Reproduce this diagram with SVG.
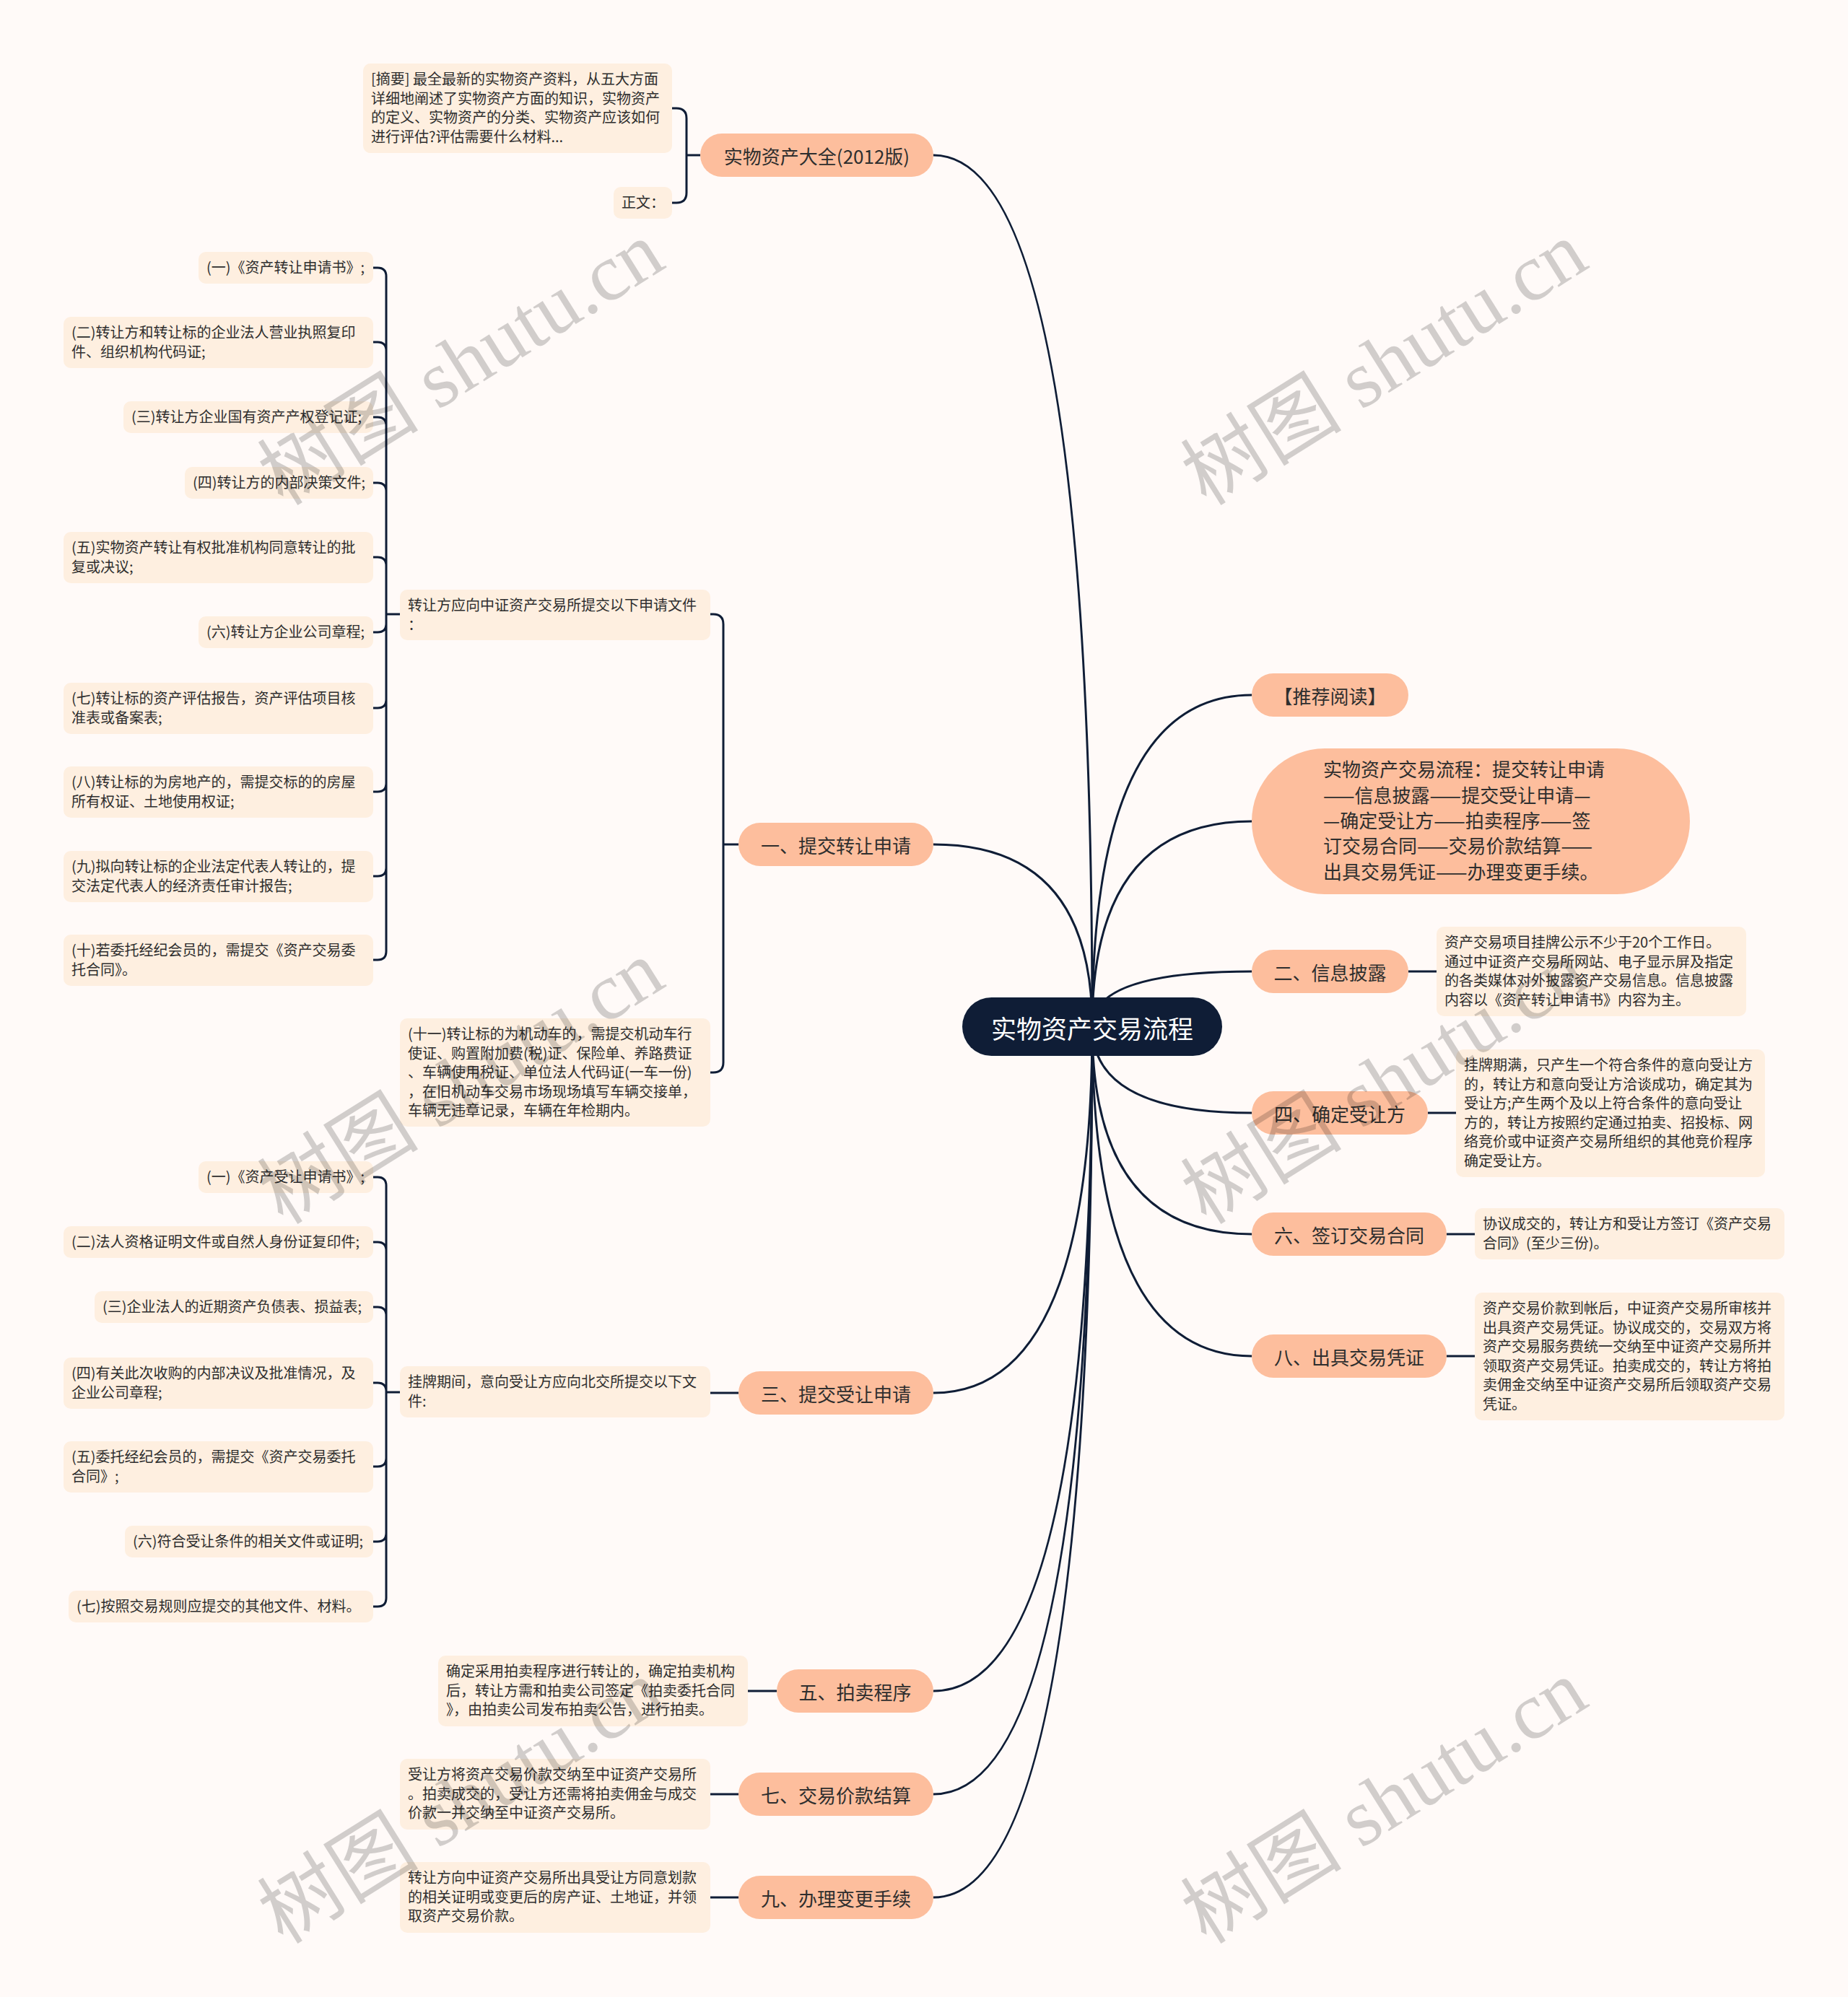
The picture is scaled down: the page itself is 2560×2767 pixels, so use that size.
<svg xmlns="http://www.w3.org/2000/svg" width="2560" height="2767" viewBox="0 0 2560 2767">
<style>
text{font-family:"Noto Sans CJK SC","Noto Sans",sans-serif;fill:#2e2e2e}
.s{font-size:20px}
.m{font-size:26px;text-anchor:middle;dominant-baseline:central}
.mr{fill:#fdbe9d}
.sr{fill:#feefe0}
.cn{fill:none;stroke:#0f1d36;stroke-width:3}
.wm{font-family:"Liberation Serif","Noto Sans CJK SC",serif;font-size:112px;fill:#000;fill-opacity:0.18;text-anchor:middle}
</style>
<rect width="2560" height="2767" fill="#fffaf8"/>
<g id="connectors" class="cn">
<path d="M1513,1422 Q1513,215 1293,215"/>
<path d="M1513,1422 Q1513,1170 1293,1170"/>
<path d="M1513,1422 Q1513,1930 1293,1930"/>
<path d="M1513,1422 Q1513,2343 1293,2343"/>
<path d="M1513,1422 Q1513,2486 1293,2486"/>
<path d="M1513,1422 Q1513,2629 1293,2629"/>
<path d="M1513,1422 Q1513,963 1734,963"/>
<path d="M1513,1422 Q1513,1138 1734,1138"/>
<path d="M1513,1422 Q1513,1346 1734,1346"/>
<path d="M1513,1422 Q1513,1542 1734,1542"/>
<path d="M1513,1422 Q1513,1710 1734,1710"/>
<path d="M1513,1422 Q1513,1879 1734,1879"/>
<path d="M970,215 H951 M931,150 H937 Q951,150 951,164 V215 M931,281 H937 Q951,281 951,267 V215"/>
<path d="M1023,1170 H1002 M984,851 H988 Q1002,851 1002,865 V1170 M984,1486 H988 Q1002,1486 1002,1472 V1170"/>
<path d="M554,851 H535 M517,371 H523 Q535,371 535,383 V851 M517,474 H523 Q535,474 535,486 V851 M517,578 H523 Q535,578 535,590 V851 M517,669 H523 Q535,669 535,681 V851 M517,772 H523 Q535,772 535,784 V851 M517,876 H523 Q535,876 535,864 V851 M517,981 H523 Q535,981 535,969 V851 M517,1097 H523 Q535,1097 535,1085 V851 M517,1214 H523 Q535,1214 535,1202 V851 M517,1330 H523 Q535,1330 535,1318 V851"/>
<path d="M1023,1930 H984"/>
<path d="M554,1929 H535 M517,1631 H523 Q535,1631 535,1643 V1929 M517,1721 H523 Q535,1721 535,1733 V1929 M517,1811 H523 Q535,1811 535,1823 V1929 M517,1916 H523 Q535,1916 535,1928 V1929 M517,2032 H523 Q535,2032 535,2020 V1929 M517,2136 H523 Q535,2136 535,2124 V1929 M517,2226 H523 Q535,2226 535,2214 V1929"/>
<path d="M1076,2343 H1036"/>
<path d="M1023,2486 H984"/>
<path d="M1023,2629 H984"/>
<path d="M1951,1346 H1990"/>
<path d="M1978,1542 H2017"/>
<path d="M2004,1710 H2043"/>
<path d="M2004,1879 H2043"/>
</g>
<g id="center"><rect x="1333" y="1382" width="360" height="81" rx="40.5" fill="#0f1d36"/><text x="1513" y="1423" style="font-size:35px;fill:#fff;text-anchor:middle;dominant-baseline:central">实物资产交易流程</text></g>
<g id="n-daquan"><rect class="mr" x="970" y="185" width="323" height="60" rx="30"/><text class="m" x="1131.5" y="215">实物资产大全(2012版)</text></g>
<g id="n-summary"><rect class="sr" x="503" y="88" width="428" height="124" rx="10"/><text class="s" x="514" y="117">[摘要] 最全最新的实物资产资料，从五大方面<tspan x="514" y="144">详细地阐述了实物资产方面的知识，实物资产</tspan><tspan x="514" y="170">的定义、实物资产的分类、实物资产应该如何</tspan><tspan x="514" y="197">进行评估?评估需要什么材料...</tspan></text></g>
<g id="n-zhengwen"><rect class="sr" x="850" y="259" width="81" height="44" rx="10"/><text class="s" x="861" y="288">正文：</text></g>
<g id="n-1"><rect class="mr" x="1023" y="1140" width="270" height="60" rx="30"/><text class="m" x="1158" y="1170">一、提交转让申请</text></g>
<g id="n-1a"><rect class="sr" x="554" y="817" width="430" height="70" rx="10"/><text class="s" x="565" y="846">转让方应向中证资产交易所提交以下申请文件<tspan x="565" y="873">：</tspan></text></g>
<g id="n-1b"><rect class="sr" x="554" y="1411" width="430" height="150" rx="10"/><text class="s" x="565" y="1440">(十一)转让标的为机动车的，需提交机动车行<tspan x="565" y="1467">使证、购置附加费(税)证、保险单、养路费证</tspan><tspan x="565" y="1493">、车辆使用税证、单位法人代码证(一车一份)</tspan><tspan x="565" y="1520">，在旧机动车交易市场现场填写车辆交接单，</tspan><tspan x="565" y="1546">车辆无违章记录，车辆在年检期内。</tspan></text></g>
<g id="i1-1"><rect class="sr" x="275" y="349" width="242" height="44" rx="10"/><text class="s" x="286" y="378">(一)《资产转让申请书》;</text></g>
<g id="i1-2"><rect class="sr" x="88" y="439" width="429" height="71" rx="10"/><text class="s" x="99" y="468">(二)转让方和转让标的企业法人营业执照复印<tspan x="99" y="495">件、组织机构代码证;</tspan></text></g>
<g id="i1-3"><rect class="sr" x="171" y="556" width="346" height="44" rx="10"/><text class="s" x="182" y="585">(三)转让方企业国有资产产权登记证;</text></g>
<g id="i1-4"><rect class="sr" x="256" y="647" width="261" height="44" rx="10"/><text class="s" x="267" y="676">(四)转让方的内部决策文件;</text></g>
<g id="i1-5"><rect class="sr" x="88" y="737" width="429" height="71" rx="10"/><text class="s" x="99" y="766">(五)实物资产转让有权批准机构同意转让的批<tspan x="99" y="793">复或决议;</tspan></text></g>
<g id="i1-6"><rect class="sr" x="275" y="854" width="242" height="44" rx="10"/><text class="s" x="286" y="883">(六)转让方企业公司章程;</text></g>
<g id="i1-7"><rect class="sr" x="88" y="946" width="429" height="71" rx="10"/><text class="s" x="99" y="975">(七)转让标的资产评估报告，资产评估项目核<tspan x="99" y="1002">准表或备案表;</tspan></text></g>
<g id="i1-8"><rect class="sr" x="88" y="1062" width="429" height="71" rx="10"/><text class="s" x="99" y="1091">(八)转让标的为房地产的，需提交标的的房屋<tspan x="99" y="1118">所有权证、土地使用权证;</tspan></text></g>
<g id="i1-9"><rect class="sr" x="88" y="1179" width="429" height="71" rx="10"/><text class="s" x="99" y="1208">(九)拟向转让标的企业法定代表人转让的，提<tspan x="99" y="1235">交法定代表人的经济责任审计报告;</tspan></text></g>
<g id="i1-10"><rect class="sr" x="88" y="1295" width="429" height="71" rx="10"/><text class="s" x="99" y="1324">(十)若委托经纪会员的，需提交《资产交易委<tspan x="99" y="1351">托合同》。</tspan></text></g>
<g id="n-3"><rect class="mr" x="1023" y="1900" width="270" height="60" rx="30"/><text class="m" x="1158" y="1930">三、提交受让申请</text></g>
<g id="n-3a"><rect class="sr" x="554" y="1893" width="430" height="71" rx="10"/><text class="s" x="565" y="1922">挂牌期间，意向受让方应向北交所提交以下文<tspan x="565" y="1949">件:</tspan></text></g>
<g id="i3-1"><rect class="sr" x="275" y="1609" width="242" height="44" rx="10"/><text class="s" x="286" y="1638">(一)《资产受让申请书》;</text></g>
<g id="i3-2"><rect class="sr" x="88" y="1699" width="429" height="44" rx="10"/><text class="s" x="99" y="1728">(二)法人资格证明文件或自然人身份证复印件;</text></g>
<g id="i3-3"><rect class="sr" x="131" y="1789" width="386" height="44" rx="10"/><text class="s" x="142" y="1818">(三)企业法人的近期资产负债表、损益表;</text></g>
<g id="i3-4"><rect class="sr" x="88" y="1881" width="429" height="71" rx="10"/><text class="s" x="99" y="1910">(四)有关此次收购的内部决议及批准情况，及<tspan x="99" y="1937">企业公司章程;</tspan></text></g>
<g id="i3-5"><rect class="sr" x="88" y="1997" width="429" height="71" rx="10"/><text class="s" x="99" y="2026">(五)委托经纪会员的，需提交《资产交易委托<tspan x="99" y="2053">合同》;</tspan></text></g>
<g id="i3-6"><rect class="sr" x="173" y="2114" width="344" height="44" rx="10"/><text class="s" x="184" y="2143">(六)符合受让条件的相关文件或证明;</text></g>
<g id="i3-7"><rect class="sr" x="95" y="2204" width="422" height="44" rx="10"/><text class="s" x="106" y="2233">(七)按照交易规则应提交的其他文件、材料。</text></g>
<g id="n-5"><rect class="mr" x="1076" y="2313" width="217" height="60" rx="30"/><text class="m" x="1184.5" y="2343">五、拍卖程序</text></g>
<g id="n-5a"><rect class="sr" x="607" y="2294" width="429" height="98" rx="10"/><text class="s" x="618" y="2323">确定采用拍卖程序进行转让的，确定拍卖机构<tspan x="618" y="2350">后，转让方需和拍卖公司签定《拍卖委托合同</tspan><tspan x="618" y="2376">》，由拍卖公司发布拍卖公告，进行拍卖。</tspan></text></g>
<g id="n-7"><rect class="mr" x="1023" y="2456" width="270" height="60" rx="30"/><text class="m" x="1158" y="2486">七、交易价款结算</text></g>
<g id="n-7a"><rect class="sr" x="554" y="2437" width="430" height="98" rx="10"/><text class="s" x="565" y="2466">受让方将资产交易价款交纳至中证资产交易所<tspan x="565" y="2493">。拍卖成交的，受让方还需将拍卖佣金与成交</tspan><tspan x="565" y="2519">价款一并交纳至中证资产交易所。</tspan></text></g>
<g id="n-9"><rect class="mr" x="1023" y="2599" width="270" height="60" rx="30"/><text class="m" x="1158" y="2629">九、办理变更手续</text></g>
<g id="n-9a"><rect class="sr" x="554" y="2580" width="430" height="98" rx="10"/><text class="s" x="565" y="2609">转让方向中证资产交易所出具受让方同意划款<tspan x="565" y="2636">的相关证明或变更后的房产证、土地证，并领</tspan><tspan x="565" y="2662">取资产交易价款。</tspan></text></g>
<g id="n-tuijian"><rect class="mr" x="1734" y="933" width="217" height="60" rx="30"/><text class="m" x="1842.5" y="963">【推荐阅读】</text></g>
<g id="n-liucheng"><rect class="mr" x="1734" y="1037" width="607" height="202" rx="101"/><text style="font-size:26px" x="1833" y="1076">实物资产交易流程：提交转让申请<tspan x="1833" y="1112">——信息披露——提交受让申请—</tspan><tspan x="1833" y="1147">—确定受让方——拍卖程序——签</tspan><tspan x="1833" y="1182">订交易合同——交易价款结算——</tspan><tspan x="1833" y="1218">出具交易凭证——办理变更手续。</tspan></text></g>
<g id="n-2"><rect class="mr" x="1734" y="1316" width="217" height="60" rx="30"/><text class="m" x="1842.5" y="1346">二、信息披露</text></g>
<g id="n-2a"><rect class="sr" x="1990" y="1284" width="429" height="124" rx="10"/><text class="s" x="2001" y="1313">资产交易项目挂牌公示不少于20个工作日。<tspan x="2001" y="1340">通过中证资产交易所网站、电子显示屏及指定</tspan><tspan x="2001" y="1366">的各类媒体对外披露资产交易信息。信息披露</tspan><tspan x="2001" y="1393">内容以《资产转让申请书》内容为主。</tspan></text></g>
<g id="n-4"><rect class="mr" x="1734" y="1512" width="244" height="60" rx="30"/><text class="m" x="1856" y="1542">四、确定受让方</text></g>
<g id="n-4a"><rect class="sr" x="2017" y="1454" width="428" height="177" rx="10"/><text class="s" x="2028" y="1483">挂牌期满，只产生一个符合条件的意向受让方<tspan x="2028" y="1510">的，转让方和意向受让方洽谈成功，确定其为</tspan><tspan x="2028" y="1536">受让方;产生两个及以上符合条件的意向受让</tspan><tspan x="2028" y="1563">方的，转让方按照约定通过拍卖、招投标、网</tspan><tspan x="2028" y="1589">络竞价或中证资产交易所组织的其他竞价程序</tspan><tspan x="2028" y="1616">确定受让方。</tspan></text></g>
<g id="n-6"><rect class="mr" x="1734" y="1680" width="270" height="60" rx="30"/><text class="m" x="1869" y="1710">六、签订交易合同</text></g>
<g id="n-6a"><rect class="sr" x="2043" y="1674" width="429" height="71" rx="10"/><text class="s" x="2054" y="1703">协议成交的，转让方和受让方签订《资产交易<tspan x="2054" y="1730">合同》(至少三份)。</tspan></text></g>
<g id="n-8"><rect class="mr" x="1734" y="1849" width="270" height="60" rx="30"/><text class="m" x="1869" y="1879">八、出具交易凭证</text></g>
<g id="n-8a"><rect class="sr" x="2043" y="1791" width="429" height="177" rx="10"/><text class="s" x="2054" y="1820">资产交易价款到帐后，中证资产交易所审核并<tspan x="2054" y="1847">出具资产交易凭证。协议成交的，交易双方将</tspan><tspan x="2054" y="1873">资产交易服务费统一交纳至中证资产交易所并</tspan><tspan x="2054" y="1900">领取资产交易凭证。拍卖成交的，转让方将拍</tspan><tspan x="2054" y="1926">卖佣金交纳至中证资产交易所后领取资产交易</tspan><tspan x="2054" y="1953">凭证。</tspan></text></g>
<g id="watermark">
<text class="wm" x="644" y="540" transform="rotate(-32 644 512)">树图 shutu.cn</text>
<text class="wm" x="1923" y="540" transform="rotate(-32 1923 512)">树图 shutu.cn</text>
<text class="wm" x="644" y="1536" transform="rotate(-32 644 1508)">树图 shutu.cn</text>
<text class="wm" x="1923" y="1536" transform="rotate(-32 1923 1508)">树图 shutu.cn</text>
<text class="wm" x="644" y="2533" transform="rotate(-32 644 2505)">树图 shutu.cn</text>
<text class="wm" x="1923" y="2533" transform="rotate(-32 1923 2505)">树图 shutu.cn</text>
</g>
</svg>
